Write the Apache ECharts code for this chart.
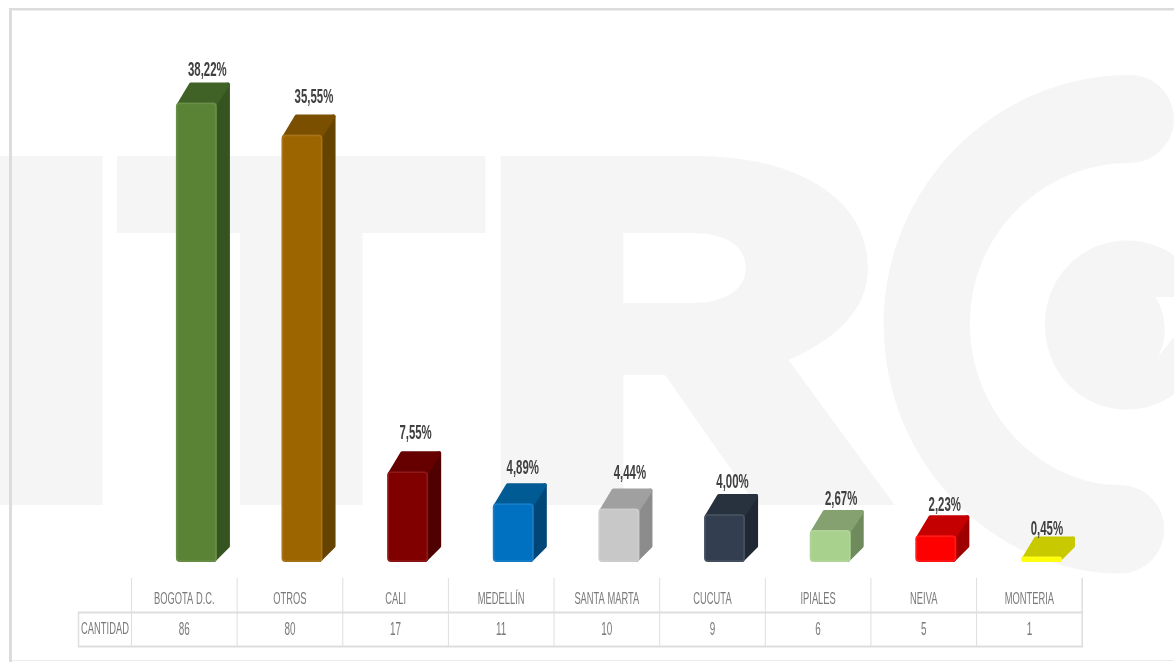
<!DOCTYPE html>
<html>
<head>
<meta charset="utf-8">
<style>html,body{margin:0;padding:0;background:#fff}#c{width:1174px;height:662px}</style>
<script src="https://cdn.jsdelivr.net/npm/echarts@6/dist/echarts.min.js"></script>
</head>
<body>
<div id="c"></div>
<script>
const categories = ['BOGOTA D.C.','OTROS','CALI','MEDELLÍN','SANTA MARTA','CUCUTA','IPIALES','NEIVA','MONTERIA'];
const percentages = [38.22,35.55,7.55,4.89,4.44,4.00,2.67,2.23,0.45];
const counts = ['86','80','17','11','10','9','6','5','1'];
const rowTitle = 'CANTIDAD';
const frontColors = ['#5A8336','#9C6500','#800000','#0070C0','#C8C8C8','#333F50','#A9D18E','#FF0000','#FFFF00'];
const topColors = ['#406227','#7A5000','#660000','#005A94','#A0A0A0','#28323F','#85A16F','#C40000','#C9C900'];
const sideColors = ['#355420','#654300','#4F0000','#004678','#8C8C8C','#1F2833','#6F8A5C','#9E0000','#C9C900'];
const labelShiftX = [23,24,20,21.5,23,20,23,21,17.5];
const labelGapY = [12,17,18,15,15,11,10,10,7];

const FONT = '"Liberation Sans",sans-serif';
const TEXT = '#7a7a7a', LINE = '#dedede', MARK = '#f5f5f5';
const gridL = 131.5, gridR = 1082.2, baseY = 562, topY = 81;
const barW = 41, depthX = 13, depthY = 20, barShift = -8.4;
const squeeze = 0.55, labelSqueeze = 0.57, catRowY = 599, countRowY = 630;

const anchor = 'M0 0L1209 662Z';
const letters = anchor +
  'M0 156H102.5V505H0Z' +
  'M117 156H485.5V233H362.5V505H240V233H117Z' +
  'M500.5 156H695C800 156 868 200 868 268C868 310 835 340 788.5 360L894.7 505H756L665 375H623.4V505H500.5Z' +
  'M1130 75C993 75 883.7 188 883.7 325C883.7 462 993 573 1120 573.5A44 44 0 0 0 1120 485C1041 485 970 413 970 324C970 235 1041 163 1130 163A44 44 0 0 0 1130 75Z' +
  'M1127 240.5C1081 240.5 1045 278 1045 325C1045 372 1081 409.5 1127 409.5C1173 409.5 1209 372 1209 325C1209 278 1173 240.5 1127 240.5Z';
const holes = anchor +
  'M623.4 233H691C725 233 745.7 245 745.7 268C745.7 290 725 303 691 303H623.4Z' +
  'M1155 297H1174V337L1155 360.5C1168 345 1168 315 1155 297Z';

const cell = (gridR - gridL) / categories.length;
const tableLines = [];
const hline = (x1, x2, y, w) => tableLines.push({type:'line',shape:{x1,x2,y1:y,y2:y},style:{stroke:LINE,lineWidth:w}});
const vline = (x, y1, y2, w) => tableLines.push({type:'line',shape:{x1:x,x2:x,y1,y2},style:{stroke:LINE,lineWidth:w}});
hline(78, gridR + 1, 612.5, 2);
hline(78, gridR + 1, 646.5, 2);
vline(78.5, 612, 647, 1.5);
categories.forEach((c, i) => vline(gridL + cell * i, 578, 647, 1));
vline(gridR, 578, 647, 1.5);

const squeezed = (text, x, y, size, sx, fill, weight) => ({
  type:'text', x, y, scaleX:sx,
  style:{text,x:0,y:0,textAlign:'center',textVerticalAlign:'middle',fill,font:(weight||'normal')+' '+size+'px '+FONT}
});

function renderBackdrop() {
  const box = {x:0,y:0,width:1209,height:662,layout:'cover'};
  return {type:'group',children:[
    {type:'path',shape:Object.assign({pathData:letters},box),style:{fill:MARK}},
    {type:'path',shape:Object.assign({pathData:holes},box),style:{fill:'#fff'}},
    {type:'rect',shape:{x:9,y:8,width:1165,height:2.5},style:{fill:'#dcdcdc'}},
    {type:'rect',shape:{x:9,y:8,width:3,height:654},style:{fill:'#dcdcdc'}},
    {type:'rect',shape:{x:12,y:660,width:1162,height:1},style:{fill:'#ececec'}},
    ...tableLines,
    squeezed(rowTitle,105,countRowY-1,17,squeeze,TEXT)
  ]};
}

function renderBar(params, api) {
  const i = api.value(0), v = api.value(1);
  const p = api.coord([i, v]), b = api.coord([i, 0]);
  const x0 = p[0] + barShift, x1 = x0 + barW, yt = p[1], yb = b[1];
  const h = yb - yt, r = Math.min(4, h / 2), o = 2;
  return {
    type: 'group',
    children: [
      {type:'polygon',shape:{points:[[x1-3,yb-o],[x1+depthX-o,yb-depthY+4],[x1+depthX-o,yt-depthY+o],[x1-3,yt+2]]},
        style:{fill:sideColors[i],stroke:sideColors[i],lineWidth:4,lineJoin:'round'}},
      {type:'polygon',shape:{points:[[x0+3,yt+2],[x0+depthX+2,yt-depthY+o],[x1+depthX-o,yt-depthY+o],[x1-2,yt+2]]},
        style:{fill:topColors[i],stroke:topColors[i],lineWidth:4,lineJoin:'round'}},
      {type:'rect',shape:{x:x0,y:yt,width:barW,height:h,r},
        style:{fill:frontColors[i]}},
      {type:'rect',shape:{x:x0+1,y:yt+1,width:barW-2,height:Math.max(h-2,0.5),r:Math.max(r-1,0)},
        style:{fill:'none',stroke:'rgba(255,255,255,0.10)',lineWidth:1.5}},
      squeezed(v.toFixed(2).replace('.',',')+'%',p[0]+labelShiftX[i],yt-depthY-labelGapY[i],20,labelSqueeze,'#404040','bold'),
      squeezed(categories[i],b[0],catRowY,17,squeeze,TEXT),
      squeezed(counts[i],b[0],countRowY,18,squeeze,TEXT)
    ]
  };
}

const chart = echarts.init(document.getElementById('c'), null, {renderer:'canvas'});
chart.setOption({
  animation: false,
  backgroundColor: '#fff',
  grid: {left: gridL, top: topY, width: gridR - gridL, bottom: 662 - baseY},
  xAxis: {type:'category',data:categories,axisLine:{show:false},axisTick:{show:false},axisLabel:{show:false}},
  yAxis: {type:'value',min:0,max:40,show:false},
  series: [
    {type:'custom',coordinateSystem:'none',silent:true,z:0,renderItem:renderBackdrop,data:[[0]]},
    {type:'custom',coordinateSystem:'cartesian2d',clip:false,z:5,renderItem:renderBar,
      data:percentages.map((v,i)=>[i,v])}
  ]
});
</script>
</body>
</html>
